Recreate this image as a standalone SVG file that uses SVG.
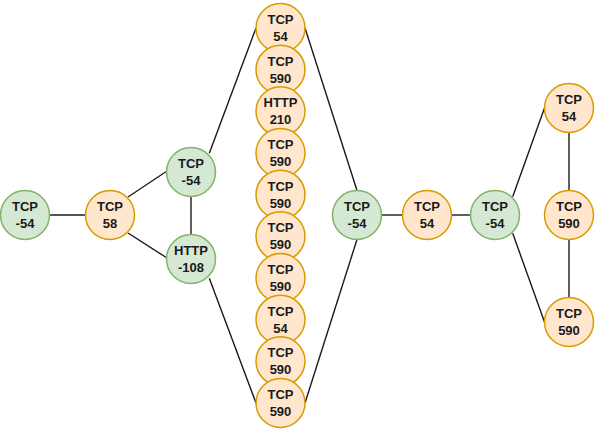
<svg xmlns="http://www.w3.org/2000/svg" width="596" height="430" viewBox="0 0 596 430">
  <style>
    .edge { stroke: #1a1a1a; stroke-width: 1.4; fill: none; }
    .green circle { fill: #d5e8d4; stroke: #82b366; stroke-width: 1.5; }
    .orange circle { fill: #ffe6cc; stroke: #d79b00; stroke-width: 1.5; }
    text { font-family: "Liberation Sans", Arial, sans-serif; font-weight: bold; font-size: 13px; fill: #1a1a1a; text-anchor: middle; }
  </style>
  <rect width="596" height="430" fill="#ffffff"/>

  <g id="connectors">
    <line class="edge" x1="49.5" y1="215" x2="85.5" y2="215"/>
    <line class="edge" x1="128" y1="197" x2="167" y2="171"/>
    <line class="edge" x1="128" y1="233" x2="167" y2="258"/>
    <line class="edge" x1="191" y1="196.5" x2="191" y2="234.5"/>
    <line class="edge" x1="209.3" y1="153.3" x2="256" y2="28"/>
    <line class="edge" x1="209.3" y1="278.3" x2="256" y2="403"/>
    <line class="edge" x1="305" y1="28" x2="357" y2="190.5"/>
    <line class="edge" x1="305" y1="403" x2="357" y2="239.5"/>
    <line class="edge" x1="381.5" y1="215" x2="402.5" y2="215"/>
    <line class="edge" x1="451.5" y1="215" x2="470.5" y2="215"/>
    <line class="edge" x1="512.7" y1="196.7" x2="544.5" y2="108"/>
    <line class="edge" x1="512.7" y1="233.3" x2="544.5" y2="322"/>
    <line class="edge" x1="569" y1="132.5" x2="569" y2="190.5"/>
    <line class="edge" x1="569" y1="239.5" x2="569" y2="297.5"/>
  </g>

  <g id="n1" class="green"><circle cx="25" cy="215" r="24.5"/><text x="25" y="211">TCP</text><text x="25" y="228">-54</text></g>
  <g id="n2" class="orange"><circle cx="110" cy="215" r="24.5"/><text x="110" y="211">TCP</text><text x="110" y="228">58</text></g>
  <g id="n3" class="green"><circle cx="191" cy="172" r="24.5"/><text x="191" y="168">TCP</text><text x="191" y="185">-54</text></g>
  <g id="n4" class="green"><circle cx="191" cy="259" r="24.5"/><text x="191" y="255">HTTP</text><text x="191" y="272">-108</text></g>

  <g id="c1" class="orange"><circle cx="280.5" cy="28" r="24.5"/><text x="280.5" y="24">TCP</text><text x="280.5" y="41">54</text></g>
  <g id="c2" class="orange"><circle cx="280.5" cy="69.7" r="24.5"/><text x="280.5" y="65.7">TCP</text><text x="280.5" y="82.7">590</text></g>
  <g id="c3" class="orange"><circle cx="280.5" cy="111.3" r="24.5"/><text x="280.5" y="107.3">HTTP</text><text x="280.5" y="124.3">210</text></g>
  <g id="c4" class="orange"><circle cx="280.5" cy="153" r="24.5"/><text x="280.5" y="149">TCP</text><text x="280.5" y="166">590</text></g>
  <g id="c5" class="orange"><circle cx="280.5" cy="194.7" r="24.5"/><text x="280.5" y="190.7">TCP</text><text x="280.5" y="207.7">590</text></g>
  <g id="c6" class="orange"><circle cx="280.5" cy="236.3" r="24.5"/><text x="280.5" y="232.3">TCP</text><text x="280.5" y="249.3">590</text></g>
  <g id="c7" class="orange"><circle cx="280.5" cy="278" r="24.5"/><text x="280.5" y="274">TCP</text><text x="280.5" y="291">590</text></g>
  <g id="c8" class="orange"><circle cx="280.5" cy="319.7" r="24.5"/><text x="280.5" y="315.7">TCP</text><text x="280.5" y="332.7">54</text></g>
  <g id="c9" class="orange"><circle cx="280.5" cy="361.3" r="24.5"/><text x="280.5" y="357.3">TCP</text><text x="280.5" y="374.3">590</text></g>
  <g id="c10" class="orange"><circle cx="280.5" cy="403" r="24.5"/><text x="280.5" y="399">TCP</text><text x="280.5" y="416">590</text></g>

  <g id="n5" class="green"><circle cx="357" cy="215" r="24.5"/><text x="357" y="211">TCP</text><text x="357" y="228">-54</text></g>
  <g id="n6" class="orange"><circle cx="427" cy="215" r="24.5"/><text x="427" y="211">TCP</text><text x="427" y="228">54</text></g>
  <g id="n7" class="green"><circle cx="495" cy="215" r="24.5"/><text x="495" y="211">TCP</text><text x="495" y="228">-54</text></g>

  <g id="r1" class="orange"><circle cx="569" cy="108" r="24.5"/><text x="569" y="104">TCP</text><text x="569" y="121">54</text></g>
  <g id="r2" class="orange"><circle cx="569" cy="215" r="24.5"/><text x="569" y="211">TCP</text><text x="569" y="228">590</text></g>
  <g id="r3" class="orange"><circle cx="569" cy="322" r="24.5"/><text x="569" y="318">TCP</text><text x="569" y="335">590</text></g>
</svg>
